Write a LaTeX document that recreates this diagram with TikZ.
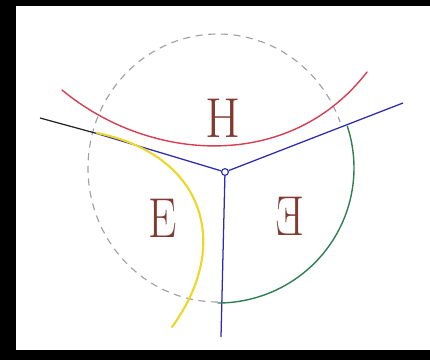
\documentclass[tikz,border=0pt]{standalone}
\usepackage{tikz}
\usetikzlibrary{positioning}
\definecolor{letterbrown}{RGB}{128,58,48}
\definecolor{cutred}{RGB}{214,62,84}
\definecolor{wallblue}{RGB}{44,44,176}
\definecolor{arcgreen}{RGB}{46,128,84}
\definecolor{arcyellow}{RGB}{236,216,40}
\definecolor{guidegray}{RGB}{160,160,160}
\begin{document}
\begin{tikzpicture}[x=0.025cm,y=-0.025cm,
  wall/.style={draw=wallblue,line width=0.9pt},
  hub/.style={circle,draw=wallblue,fill=white,line width=0.8pt,
              inner sep=0pt,minimum size=0.17cm},
  guide/.style={draw=guidegray,dash pattern=on 5pt off 4pt,line width=0.8pt},
  letter/.style={text=letterbrown,font=\fontsize{40}{40}\selectfont},
  curve/.style={line width=1pt,line cap=round}]
% frame
\fill[black] (0,0) rectangle (430,360);
\fill[white] (16,6) rectangle (430,350);
\useasboundingbox (0,0) rectangle (430,360);
% guide ellipse
\draw[guide] (218,168) ++(90:130 and 134)
  arc[start angle=90,end angle=340,x radius=130,y radius=134];
% junction and ends
\node[hub] (J) at (225,172) {};
\coordinate (lft)  at (40,118);
\coordinate (lmid) at (95,133);
\coordinate (rgt)  at (403,103);
\coordinate (bot)  at (221,337);
\draw[line width=0.9pt,black!85] (lft) -- (lmid);
\draw[wall] (lmid) -- (J);
\draw[wall] (J) -- (rgt);
\draw[wall] (J) -- (bot);
% curves
\draw[curve,cutred] (62,90) .. controls (150,163) and (290,172) .. (367,72);
\draw[curve,arcyellow,line width=1.5pt] (97,133)
  .. controls (205,155) and (232,245) .. (172,327);
\draw[curve,arcgreen] (218,168) ++(-18:136 and 135)
  arc[start angle=-18,end angle=90,x radius=136,y radius=135];
% labels
\node[letter,xscale=0.9] (hl) at (223,118) {H};
\node[letter,xscale=0.8] (el) at (163,218) {E};
\node[letter,xscale=0.8] (rl) at (290,216) {\reflectbox{E}};
\end{tikzpicture}
\end{document}
